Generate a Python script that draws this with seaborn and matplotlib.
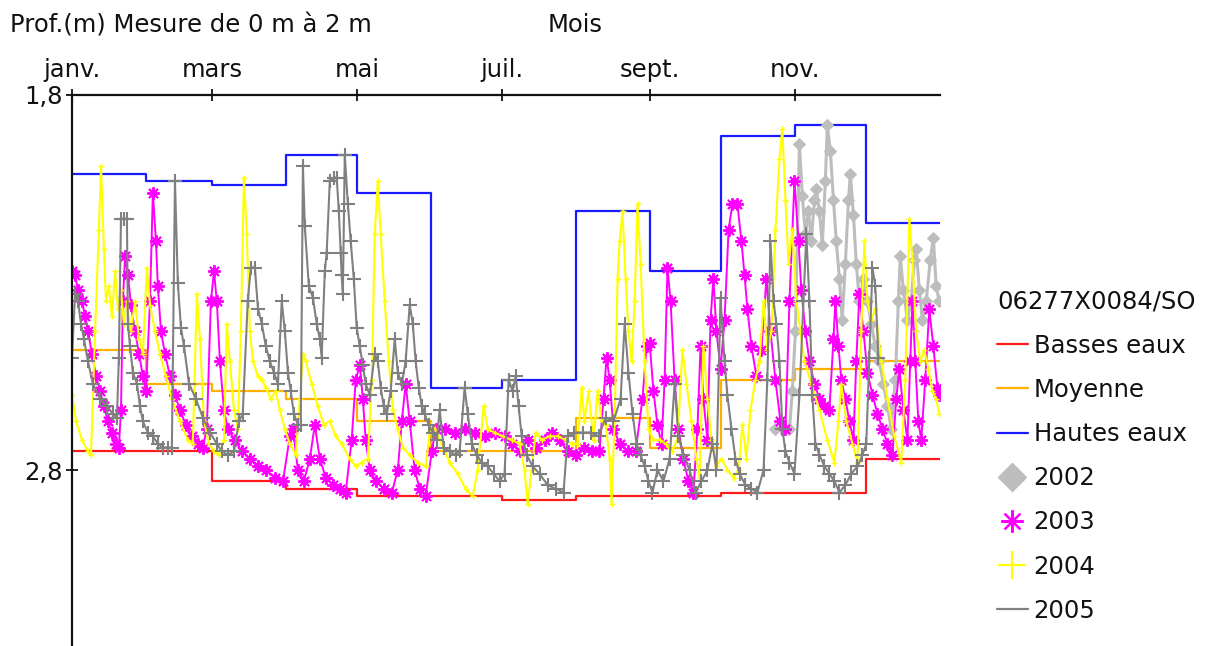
import matplotlib
matplotlib.use("Agg")
import matplotlib.pyplot as plt
from matplotlib.lines import Line2D
import seaborn as sns

# Calendar (day of year) and month labels on the top axis
month_starts = [0, 31, 59, 90, 120, 151, 181, 212, 243, 273, 304, 334, 365]
tick_days = [0, 59, 120, 181, 243, 304]
tick_labels = ["janv.", "mars", "mai", "juil.", "sept.", "nov."]

# Monthly reference levels (depth in m)
basses_eaux = [2.75, 2.75, 2.83, 2.85, 2.87, 2.87, 2.88, 2.87, 2.87, 2.86, 2.86, 2.77]
moyenne = [2.48, 2.57, 2.59, 2.61, 2.67, 2.75, 2.75, 2.66, 2.74, 2.56, 2.53, 2.51]
hautes_eaux = [2.01, 2.03, 2.04, 1.96, 2.06, 2.58, 2.56, 2.11, 2.27, 1.91, 1.88, 2.14]

# Yearly records: day of year and depth (m)
days_2002 = [295.8, 299.6, 301.7, 302.9, 304.2, 305.0, 305.9, 307.1, 308.4, 309.7, 310.9,
             312.2, 313.0, 314.3, 315.5, 316.8, 317.6, 318.9, 320.2, 321.4, 322.7, 323.9,
             325.2, 326.5, 327.3, 328.6, 329.8, 331.1, 332.8, 334.5, 336.1, 337.8, 339.5,
             341.2, 342.9, 344.5, 346.2, 347.5, 348.3, 349.6, 351.3, 352.9, 354.2, 355.0,
             356.3, 357.6, 359.2, 360.9, 362.2, 363.4, 364.7]
prof_2002 = [2.69, 2.69, 2.69, 2.59, 2.43, 2.19, 1.93, 2.07, 2.17, 2.11, 2.19,
             2.08, 2.05, 2.11, 2.20, 2.03, 1.88, 1.95, 2.08, 2.19, 2.29, 2.40,
             2.25, 2.08, 2.01, 2.12, 2.25, 2.35, 2.29, 2.35, 2.41, 2.47, 2.51,
             2.57, 2.63, 2.69, 2.56, 2.35, 2.23, 2.32, 2.40, 2.35, 2.24, 2.21,
             2.32, 2.40, 2.35, 2.24, 2.18, 2.31, 2.35]

days_2003 = [0, 1.3, 2.5, 4.2, 5.5, 6.7, 8.4, 10.1, 11.8, 13.4, 15.1, 16.8, 18.5, 19.7,
             20.6, 21.4, 22.3, 23.5, 24.8, 26.5, 28.2, 29.8, 31.1, 32.8, 34.0, 35.3, 36.1,
             37.4, 39.1, 41.2, 43.3, 45.4, 47.9, 50.4, 52.9, 55.0, 56.7, 58.4, 59.7, 60.9,
             62.2, 63.9, 65.5, 68.5, 71.4, 74.8, 78.2, 81.5, 85.3, 88.7, 91.6, 92.9, 95.0,
             97.5, 100.0, 102.1, 104.2, 106.7, 109.7, 112.6, 115.1, 117.6, 119.3, 121.0,
             122.3, 123.5, 125.2, 127.7, 131.1, 134.5, 137.0, 138.7, 140.3, 142.0, 144.1,
             146.2, 148.7, 151.3, 152.9, 156.7, 160.9, 165.1, 169.3, 173.5, 177.7, 181.9,
             184.9, 188.2, 191.6, 195.0, 198.7, 201.7, 205.0, 208.4, 211.8, 215.1, 218.5,
             221.8, 223.5, 224.8, 226.1, 227.7, 230.3, 233.6, 237.0, 239.9, 241.6, 242.9,
             244.5, 246.2, 247.9, 249.2, 250.4, 251.7, 253.4, 255.0, 257.1, 259.2, 261.3,
             263.0, 264.3, 265.5, 267.2, 268.5, 269.7, 271.0, 272.7, 274.4, 276.1, 277.7,
             279.8, 281.5, 282.8, 284.0, 285.7, 287.8, 289.9, 292.0, 293.7, 295.8, 297.9,
             300.0, 301.7, 303.8, 305.5, 306.7, 308.4, 310.1, 312.2, 314.3, 316.4, 318.5,
             320.2, 321.0, 322.3, 323.5, 325.2, 326.9, 328.6, 329.8, 331.1, 332.8, 334.5,
             336.6, 338.7, 340.8, 342.9, 345.0, 346.6, 347.9, 349.6, 351.3, 352.5, 353.4,
             354.6, 355.9, 357.1, 358.8, 360.5, 362.2, 363.9, 364.7]
prof_2003 = [2.27, 2.28, 2.32, 2.35, 2.39, 2.43, 2.49, 2.55, 2.59, 2.63, 2.67, 2.70, 2.73, 2.74,
             2.64, 2.35, 2.23, 2.28, 2.36, 2.43, 2.49, 2.55, 2.59, 2.35, 2.06, 2.19, 2.31,
             2.43, 2.49, 2.55, 2.60, 2.64, 2.68, 2.71, 2.73, 2.74, 2.69, 2.35, 2.27, 2.35,
             2.51, 2.64, 2.69, 2.72, 2.75, 2.77, 2.79, 2.80, 2.82, 2.83, 2.71, 2.69, 2.80,
             2.83, 2.77, 2.68, 2.77, 2.82, 2.84, 2.85, 2.86, 2.72, 2.56, 2.52,
             2.61, 2.72, 2.80, 2.83, 2.85, 2.86, 2.80, 2.67, 2.57, 2.67, 2.80,
             2.85, 2.87, 2.75, 2.69, 2.69, 2.70, 2.69, 2.70, 2.71, 2.70, 2.71,
             2.73, 2.75, 2.72, 2.74, 2.72, 2.70, 2.72, 2.75, 2.76, 2.74, 2.75,
             2.75, 2.61, 2.50, 2.56, 2.69, 2.73, 2.75, 2.75, 2.61, 2.47, 2.46,
             2.59, 2.68, 2.73, 2.56, 2.26, 2.35, 2.56, 2.69, 2.77, 2.83, 2.86,
             2.69, 2.47, 2.61, 2.72, 2.40, 2.29, 2.43, 2.53, 2.40, 2.16, 2.09,
             2.09, 2.19, 2.28, 2.37, 2.47, 2.55, 2.48, 2.29, 2.43, 2.56, 2.67,
             2.69, 2.35, 2.03, 2.19, 2.32, 2.43, 2.51, 2.57, 2.61, 2.63, 2.64,
             2.45, 2.35, 2.47, 2.56, 2.61, 2.67, 2.72, 2.51, 2.33, 2.43, 2.54,
             2.60, 2.65, 2.69, 2.73, 2.76, 2.61, 2.53, 2.64, 2.72, 2.51, 2.35,
             2.51, 2.67, 2.72, 2.56, 2.37, 2.47, 2.58, 2.60]

days_2004 = [0, 1.7, 4.2, 6.7, 8.0, 9.7, 11.3, 12.2, 13.4, 14.3, 15.5, 16.8, 18.1, 19.3,
             20.6, 21.8, 23.1, 24.8, 26.5, 28.2, 29.8, 31.5, 32.8, 34.9, 37.0, 39.5, 42.0,
             45.4, 48.7, 50.8, 52.5, 53.8, 55.5, 57.6, 59.7, 61.8, 63.9, 65.1, 66.4, 68.1,
             69.7, 71.0, 72.3, 73.5, 74.8, 76.1, 78.2, 79.8, 81.5, 83.6, 85.7, 87.4, 89.5,
             91.6, 94.1, 95.8, 97.1, 98.3, 100.8, 103.4, 105.9, 108.4, 110.9, 113.4, 116.8,
             119.3, 121.8, 124.4, 126.1, 127.3, 128.6, 129.8, 131.5, 133.2, 134.9, 137.0,
             139.1, 142.0, 145.4, 148.7, 150.8, 152.5, 155.5, 158.8, 162.2, 165.5, 168.5,
             170.6, 173.1, 174.8, 177.7, 181.1, 184.9, 188.2, 190.3, 191.6, 193.3, 195.0,
             197.5, 200.8, 204.2, 207.6, 210.1, 212.6, 214.3, 215.5, 217.2, 219.3, 221.0,
             222.7, 224.4, 226.1, 226.9, 228.2, 229.4, 230.3, 231.5, 232.8, 234.0, 235.3,
             236.6, 237.8, 239.1, 240.8, 242.4, 244.5, 247.1, 249.6, 252.1, 254.6, 256.7,
             258.4, 260.5, 262.6, 263.9, 265.5, 267.2, 268.9, 271.0, 273.1, 275.6, 278.2,
             280.3, 281.9, 283.6, 285.3, 287.4, 289.1, 290.8, 292.4, 294.1, 295.8, 297.5,
             298.7, 300.0, 301.3, 302.9, 304.6, 306.3, 308.0, 310.9, 314.3, 317.6, 320.6,
             322.3, 323.5, 325.6, 328.2, 330.3, 331.9, 333.2, 334.5, 336.1, 337.8, 340.3,
             342.9, 345.8, 348.7, 350.4, 352.1, 353.4, 355.0, 356.7, 358.4, 360.1, 361.8,
             363.4, 364.7]
prof_2004 = [2.60, 2.67, 2.72, 2.75, 2.76, 2.43, 2.16, 1.99, 2.21, 2.35, 2.31, 2.39, 2.27, 2.37,
             2.32, 2.41, 2.35, 2.43, 2.35, 2.45, 2.49, 2.26, 2.36, 2.43, 2.49, 2.55, 2.61,
             2.67, 2.72, 2.73, 2.33, 2.45, 2.67, 2.73, 2.75, 2.76, 2.72, 2.41, 2.51, 2.64,
             2.69, 2.43, 2.02, 2.17, 2.43, 2.51, 2.55, 2.56, 2.58, 2.61, 2.59, 2.64, 2.69,
             2.73, 2.76, 2.61, 2.49, 2.51, 2.57, 2.63, 2.68, 2.67, 2.71, 2.73, 2.77,
             2.79, 2.78, 2.77, 2.56, 2.17, 2.03, 2.17, 2.35, 2.51, 2.64, 2.69,
             2.74, 2.76, 2.78, 2.79, 2.68, 2.69, 2.73, 2.78, 2.81, 2.85, 2.87,
             2.80, 2.63, 2.69, 2.70, 2.71, 2.72, 2.73, 2.80, 2.89, 2.80, 2.70,
             2.72, 2.71, 2.71, 2.72, 2.73, 2.73, 2.58, 2.67, 2.59, 2.72, 2.59,
             2.67, 2.68, 2.77, 2.89, 2.67, 2.29, 2.19, 2.11, 2.29, 2.43, 2.51,
             2.35, 2.09, 2.25, 2.51, 2.69, 2.72, 2.72, 2.73, 2.75, 2.72, 2.48,
             2.57, 2.67, 2.77, 2.82, 2.47, 2.61, 2.72, 2.79, 2.77, 2.80, 2.82,
             2.80, 2.68, 2.77, 2.64, 2.56, 2.51, 2.35, 2.48, 2.43, 2.16, 1.97,
             1.89, 2.08, 2.25, 2.16, 2.35, 2.43, 2.51, 2.57, 2.64, 2.72, 2.78,
             2.67, 2.57, 2.67, 2.73, 2.78, 2.43, 2.19, 2.35, 2.40, 2.37, 2.51,
             2.61, 2.71, 2.78, 2.56, 2.13, 2.24, 2.43, 2.51, 2.48, 2.53, 2.59,
             2.61, 2.65]

days_2005 = [0, 1.3, 2.5, 3.8, 5.0, 6.7, 8.8, 11.8, 14.7, 17.2, 18.9, 19.7, 20.6, 21.8,
             23.1, 23.5, 24.4, 25.6, 27.3, 28.6, 29.8, 31.9, 34.0, 36.1, 38.2, 40.3, 42.0,
             43.3, 44.5, 45.8, 47.1, 49.2, 52.1, 55.0, 58.0, 60.9, 63.0, 65.5, 68.1, 70.2,
             71.8, 73.9, 75.2, 76.9, 78.2, 79.8, 81.5, 83.2, 84.9, 86.6, 88.2, 89.5, 90.8,
             92.0, 93.3, 95.0, 96.2, 97.1, 97.9, 99.6, 101.3, 102.9, 104.2, 105.0, 106.3,
             107.1, 108.4, 110.1, 111.3, 112.2, 113.0, 113.4, 113.9, 114.7, 116.0, 117.2,
             118.5, 119.7, 121.0, 122.3, 123.5, 125.2, 127.3, 128.6, 129.8, 131.1, 132.4,
             134.0, 135.7, 137.0, 138.7, 140.3, 142.0, 143.3, 144.5, 145.8, 147.1, 148.3,
             150.0, 151.7, 153.4, 154.6, 156.3, 158.8, 161.3, 163.0, 165.1, 166.4, 168.1,
             170.2, 172.3, 174.8, 177.3, 179.8, 181.9, 183.6, 185.3, 186.6, 187.8, 189.1,
             191.2, 193.7, 196.6, 200.0, 203.4, 206.7, 208.4, 211.3, 214.7, 218.1, 221.4,
             224.4, 227.7, 230.7, 232.4, 234.0, 235.7, 237.4, 239.1, 240.8, 242.4, 244.1,
             246.2, 248.7, 251.3, 253.4, 255.0, 257.1, 259.7, 262.2, 264.7, 267.2, 269.3,
             271.0, 272.7, 274.4, 275.6, 277.3, 279.0, 280.7, 283.2, 285.7, 288.2, 290.8,
             292.4, 293.7, 295.0, 296.2, 297.5, 298.7, 300.0, 301.7, 303.8, 305.9, 307.6,
             308.8, 310.1, 311.3, 312.6, 314.3, 316.4, 318.5, 320.6, 322.7, 325.2, 327.7,
             330.3, 332.4, 334.0, 335.3, 336.6, 337.8, 339.1]
prof_2005 = [2.50, 2.33, 2.35, 2.41, 2.45, 2.51, 2.57, 2.61, 2.63, 2.65, 2.66, 2.50, 2.13, 2.13,
             2.13, 2.41, 2.47, 2.54, 2.57, 2.63, 2.67, 2.70, 2.71, 2.73, 2.74, 2.74, 2.74,
             2.03, 2.30, 2.42, 2.47, 2.57, 2.61, 2.66, 2.70, 2.73, 2.75, 2.76, 2.75, 2.67,
             2.65, 2.35, 2.26, 2.26, 2.37, 2.41, 2.47, 2.51, 2.54, 2.57, 2.35, 2.43, 2.54,
             2.59, 2.65, 2.68, 2.68, 1.99, 2.15, 2.31, 2.34, 2.41, 2.45, 2.50, 2.27,
             2.22, 2.03, 2.02, 2.02, 2.11, 2.22, 2.28, 2.33, 1.96, 2.09, 2.19,
             2.29, 2.42, 2.47, 2.52, 2.57, 2.60, 2.49, 2.51, 2.58, 2.63, 2.65,
             2.59, 2.45, 2.54, 2.57, 2.51, 2.36, 2.41, 2.51, 2.58, 2.63, 2.65,
             2.68, 2.70, 2.72, 2.64, 2.74, 2.75, 2.76, 2.75, 2.58, 2.65, 2.73,
             2.76, 2.78, 2.79, 2.81, 2.83, 2.81, 2.56, 2.59, 2.55, 2.63, 2.71,
             2.76, 2.79, 2.81, 2.84, 2.85, 2.86, 2.71, 2.70, 2.70, 2.70, 2.71,
             2.66, 2.67, 2.61, 2.41, 2.54, 2.65, 2.73, 2.76, 2.79, 2.83, 2.86,
             2.80, 2.83, 2.77, 2.57, 2.71, 2.76, 2.80, 2.86, 2.83, 2.80, 2.73,
             2.80, 2.34, 2.51, 2.60, 2.69, 2.77, 2.81, 2.84, 2.85, 2.86, 2.80,
             2.56, 2.19, 2.35, 2.41, 2.51, 2.69, 2.75, 2.78, 2.81, 2.60, 2.35,
             2.17, 2.35, 2.60, 2.73, 2.76, 2.79, 2.81, 2.83, 2.86, 2.84, 2.81,
             2.79, 2.76, 2.73, 2.50, 2.26, 2.31, 2.50]

RED, ORANGE, BLUE = "#ff1a1a", "#ffb000", "#1a1aff"
C2002, C2003, C2004, C2005 = "#bdbdbd", "#ff00ff", "#ffff00", "#808080"
ASTERISK = (8, 2, 0)

sns.set_theme(style="white")
plt.rcParams["font.family"] = ["DejaVu Sans"]

fig = plt.figure(figsize=(12.15, 6.46), dpi=100)
ax = fig.add_axes([72 / 1215, 0.0, 868 / 1215, 551 / 646])

# Monthly reference levels as step lines
for levels, col in [(basses_eaux, RED), (moyenne, ORANGE), (hautes_eaux, BLUE)]:
    sns.lineplot(x=month_starts, y=levels + [levels[-1]], ax=ax, color=col, lw=1.6,
                 drawstyle="steps-post", estimator=None, sort=False, legend=False)

# Yearly records
sns.lineplot(x=days_2002, y=prof_2002, ax=ax, color=C2002, lw=2.2, marker="D",
             markersize=6.5, markeredgecolor=C2002, markerfacecolor=C2002,
             estimator=None, sort=False, legend=False)
sns.lineplot(x=days_2003, y=prof_2003, ax=ax, color=C2003, lw=1.4, marker=ASTERISK,
             markersize=9, markeredgewidth=1.4, markeredgecolor=C2003,
             estimator=None, sort=False, legend=False)
sns.lineplot(x=days_2004, y=prof_2004, ax=ax, color=C2004, lw=1.5, marker="+",
             markersize=4, markeredgewidth=1.0, markeredgecolor=C2004,
             estimator=None, sort=False, legend=False)
sns.lineplot(x=days_2005, y=prof_2005, ax=ax, color=C2005, lw=1.5, marker="+",
             markersize=10, markeredgewidth=1.5, markeredgecolor=C2005,
             estimator=None, sort=False, legend=False)

# Axes: depth grows downward, months along the top
ax.set_xlim(0, 365)
ax.set_ylim(3.2693, 1.8)
ax.xaxis.tick_top()
ax.set_xticks(tick_days, tick_labels)
ax.set_yticks([1.8, 2.8], ["1,8", "2,8"])
ax.set_xlabel("")
ax.set_ylabel("")
ax.tick_params(axis="both", direction="inout", length=9, width=1.3, colors="#111111",
               labelsize=17.5, labelcolor="#111111")
ax.tick_params(axis="x", pad=5, top=True, bottom=False)
ax.tick_params(axis="y", pad=2, left=True, right=False)
for side in ["bottom", "right"]:
    ax.spines[side].set_visible(False)
for side in ["top", "left"]:
    ax.spines[side].set_visible(True)
    ax.spines[side].set_color("#111111")
    ax.spines[side].set_linewidth(1.6)
ax.grid(False)

fig.text(10 / 1215, 1 - 25 / 646, "Prof.(m) Mesure de 0 m à 2 m", ha="left", va="center",
         fontsize=17.5, color="#111111")
fig.text(575 / 1215, 1 - 25 / 646, "Mois", ha="center", va="center",
         fontsize=17.5, color="#111111")

handles = [
    Line2D([], [], color=RED, lw=1.6),
    Line2D([], [], color=ORANGE, lw=1.6),
    Line2D([], [], color=BLUE, lw=1.6),
    Line2D([], [], ls="none", marker="D", markersize=14, color=C2002),
    Line2D([], [], ls="none", marker=ASTERISK, markersize=16, markeredgewidth=1.6,
           color=C2003),
    Line2D([], [], ls="none", marker="+", markersize=20, markeredgewidth=1.6, color=C2004),
    Line2D([], [], color=C2005, lw=1.6),
]
labels = ["Basses eaux", "Moyenne", "Hautes eaux", "2002", "2003", "2004", "2005"]
leg = ax.legend(handles, labels, title="06277X0084/SO", loc="upper left",
                bbox_to_anchor=(1.066, 0.647), frameon=False, fontsize=17.5,
                title_fontsize=17.5, alignment="left", handlelength=1.25,
                handletextpad=0.25, labelspacing=0.83, borderaxespad=0, borderpad=0)
for t in leg.get_texts():
    t.set_color("#111111")
leg.get_title().set_color("#111111")

fig.savefig("out.png", dpi=100)
